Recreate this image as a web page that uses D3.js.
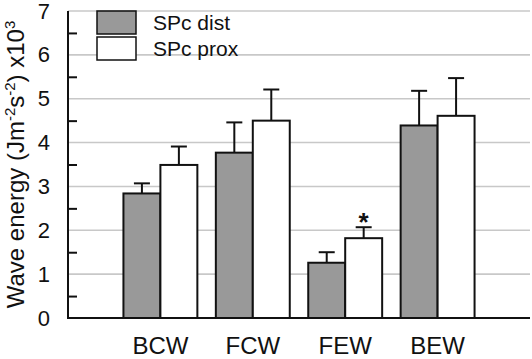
<!DOCTYPE html>
<html>
<head>
<meta charset="utf-8">
<script src="https://cdn.jsdelivr.net/npm/d3@7"></script>
<style>
  body { margin: 0; background: #fff; }
  text { font-family: "Liberation Sans", Arial, sans-serif; fill: #111; }
</style>
</head>
<body>
<div id="chart"></div>
<script>
// data
const categories = ["BCW", "FCW", "FEW", "BEW"];
const seriesNames = ["SPc dist", "SPc prox"];
const distValues = [2.84, 3.77, 1.26, 4.39];
const distErrors = [0.23, 0.69, 0.24, 0.79];
const proxValues = [3.49, 4.50, 1.82, 4.61];
const proxErrors = [0.42, 0.71, 0.25, 0.86];
const yTicks = [0, 1, 2, 3, 4, 5, 6, 7];
const significant = [{category: "FEW", series: "SPc prox"}];

const W = 532, H = 359;
const margin = {top: 11, right: 2, bottom: 41, left: 68};
const width = W - margin.left - margin.right,
      height = H - margin.top - margin.bottom;

const rows = categories.map((c, i) => ({
  category: c,
  bars: [
    {series: seriesNames[0], value: distValues[i], err: distErrors[i]},
    {series: seriesNames[1], value: proxValues[i], err: proxErrors[i]}
  ]
}));

const svg = d3.select("#chart").append("svg")
    .attr("width", W)
    .attr("height", H)
  .append("g")
    .attr("transform", "translate(" + margin.left + "," + margin.top + ")");

// scales
const step = width / 5;
const xScale = d3.scaleBand()
  .domain(categories)
  .range([step / 2, width - step / 2]);

const xSub = d3.scaleBand()
  .domain(seriesNames)
  .range([0, xScale.bandwidth()])
  .paddingOuter(0.25);

const yScale = d3.scaleLinear()
  .domain([0, 7])
  .range([height, 0]);

const color = d3.scaleOrdinal()
  .domain(seriesNames)
  .range(["#999999", "#ffffff"]);

// grid
svg.append("g")
  .selectAll("line")
  .data(yTicks.filter(d => d > 0))
  .enter().append("line")
    .attr("x1", 0)
    .attr("x2", width)
    .attr("y1", d => yScale(d))
    .attr("y2", d => yScale(d))
    .style("stroke", "#c8c8c8")
    .style("stroke-width", 1.6);

// y axis: labels at integers, small inside ticks at the halves
const yAxis = d3.axisLeft(yScale).tickValues(yTicks).tickSize(0).tickPadding(18).tickFormat(d3.format("d"));
const gy = svg.append("g").call(yAxis);
gy.select(".domain").remove();
gy.selectAll("text")
  .style("font-size", "22px")
  .style("font-family", "Liberation Sans, Arial, sans-serif")
  .attr("fill", "#111");

svg.append("g")
  .call(d3.axisRight(yScale).tickValues(yTicks.slice(0, -1).map(d => d + 0.5)).tickSize(9).tickFormat(""))
  .call(g => g.select(".domain").remove())
  .selectAll("line")
    .style("stroke", "#111")
    .style("stroke-width", 2);

// bars
const groups = svg.selectAll(".grp")
  .data(rows)
  .enter().append("g")
    .attr("class", "grp")
    .attr("transform", d => "translate(" + xScale(d.category) + ",0)");

// error bars (up only)
const errs = groups.selectAll(".err")
  .data(d => d.bars)
  .enter().append("g")
    .attr("class", "err");
errs.append("line")
  .attr("x1", d => xSub(d.series) + xSub.bandwidth() / 2)
  .attr("x2", d => xSub(d.series) + xSub.bandwidth() / 2)
  .attr("y1", d => yScale(d.value))
  .attr("y2", d => yScale(d.value + d.err))
  .style("stroke", "#111")
  .style("stroke-width", 2);
errs.append("line")
  .attr("x1", d => xSub(d.series) + xSub.bandwidth() / 2 - 8)
  .attr("x2", d => xSub(d.series) + xSub.bandwidth() / 2 + 8)
  .attr("y1", d => yScale(d.value + d.err))
  .attr("y2", d => yScale(d.value + d.err))
  .style("stroke", "#111")
  .style("stroke-width", 2);

groups.selectAll("rect")
  .data(d => d.bars)
  .enter().append("rect")
    .attr("x", d => xSub(d.series))
    .attr("y", d => yScale(d.value))
    .attr("width", xSub.bandwidth())
    .attr("height", d => height - yScale(d.value))
    .style("fill", d => color(d.series))
    .style("stroke", "#111")
    .style("stroke-width", 2);

// significance star
significant.forEach(s => {
  const i = categories.indexOf(s.category);
  const b = rows[i].bars.find(d => d.series === s.series);
  svg.append("text")
    .attr("x", xScale(s.category) + xSub(s.series) + xSub.bandwidth() / 2)
    .attr("y", yScale(b.value + b.err) + 4)
    .attr("text-anchor", "middle")
    .style("font-size", "26px")
    .style("font-weight", "bold")
    .text("*");
});

// axis lines
svg.append("line")
  .attr("x1", 0).attr("x2", 0)
  .attr("y1", 0).attr("y2", height)
  .style("stroke", "#111").style("stroke-width", 2);
svg.append("line")
  .attr("x1", -1).attr("x2", width)
  .attr("y1", height).attr("y2", height)
  .style("stroke", "#111").style("stroke-width", 2);

// x labels
svg.append("g")
  .selectAll("text")
  .data(categories)
  .enter().append("text")
    .attr("x", d => xScale(d) + xScale.bandwidth() / 2)
    .attr("y", height + 36)
    .attr("text-anchor", "middle")
    .style("font-size", "24px")
    .text(d => d);

// y label
const yl = svg.append("text")
  .attr("text-anchor", "middle")
  .attr("transform", "translate(" + (-44) + "," + (height / 2) + ") rotate(-90)")
  .style("font-size", "24px");
yl.append("tspan").text("Wave energy (Jm");
yl.append("tspan").attr("dy", -9).style("font-size", "15px").text("-2");
yl.append("tspan").attr("dy", 9).text("s");
yl.append("tspan").attr("dy", -9).style("font-size", "15px").text("-2");
yl.append("tspan").attr("dy", 9).text(") x10");
yl.append("tspan").attr("dy", -9).style("font-size", "15px").text("3");

// legend
const legend = svg.append("g")
  .attr("transform", "translate(29,0)");
const li = legend.selectAll("g")
  .data(seriesNames)
  .enter().append("g")
    .attr("transform", (d, i) => "translate(0," + (i * 26) + ")");
li.append("rect")
  .attr("width", 39)
  .attr("height", 23)
  .style("fill", d => color(d))
  .style("stroke", "#111")
  .style("stroke-width", 1.5);
li.append("text")
  .attr("x", 56)
  .attr("y", 19)
  .style("font-size", "21px")
  .text(d => d);
</script>
</body>
</html>
